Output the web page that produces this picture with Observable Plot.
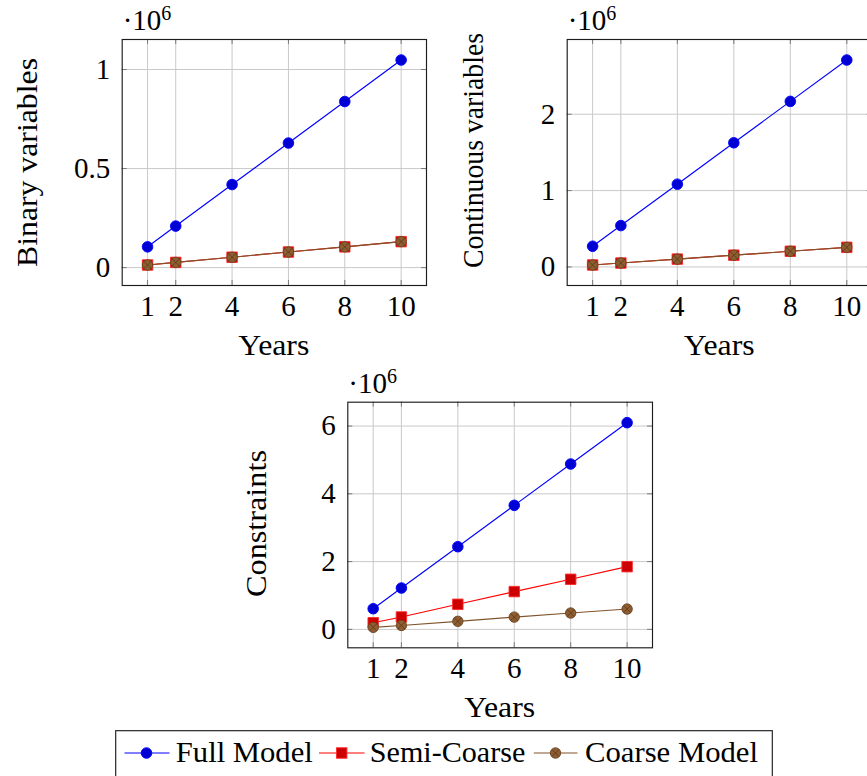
<!DOCTYPE html>
<html><head><meta charset="utf-8">
<script src="https://cdn.jsdelivr.net/npm/d3@7"></script>
<script src="https://cdn.jsdelivr.net/npm/@observablehq/plot@0.6"></script>
<style>
html,body{margin:0;padding:0;background:#fff;}
#root{position:relative;width:867px;height:776px;overflow:hidden;background:#fff;font-family:"Liberation Serif",serif;}
#root > svg{position:absolute;}
</style></head><body><div id="root"></div>
<script>
// ---- data ----
const years = [1, 2, 4, 6, 8, 10];
const seriesNames = ["Full Model", "Semi-Coarse", "Coarse Model"];
const xTicks = [1, 2, 4, 6, 8, 10];

const binaryFull   = [104800, 209600, 419200, 628800, 838400, 1048000];
const binarySemi   = [13100, 26200, 52400, 78600, 104800, 131000];
const binaryCoarse = [13100, 26200, 52400, 78600, 104800, 131000];
const binaryTicks = [0, 500000, 1000000];
const binaryTickLabels = ["0", "0.5", "1"];

const contFull   = [271000, 542000, 1084000, 1626000, 2168000, 2710000];
const contSemi   = [25700, 51400, 102800, 154200, 205600, 257000];
const contCoarse = [25700, 51400, 102800, 154200, 205600, 257000];
const contTicks = [0, 1000000, 2000000];
const contTickLabels = ["0", "1", "2"];

const consFull   = [610000, 1220000, 2440000, 3660000, 4880000, 6100000];
const consSemi   = [195000, 365000, 740000, 1115000, 1478000, 1850000];
const consCoarse = [60000, 115000, 238000, 362000, 482000, 600000];
const consTicks = [0, 2000000, 4000000, 6000000];
const consTickLabels = ["0", "2", "4", "6"];

// ---- styles ----
const FONT = "'Liberation Serif', serif";
const GRID = "#c9c9c9", TICK = "#7a7a7a";
const styles = {
  "Full Model":   {line: "#0000ff", fill: "#0000d4", stroke: "#0000ff", symbol: "circle", r: 5.3},
  "Semi-Coarse":  {line: "#ff0000", fill: "#cc0000", stroke: "#ff2a2a", symbol: "square", r: 5.9},
  "Coarse Model": {line: "#80542b", fill: "#8e5d31", stroke: "#6a4320", symbol: "circle", r: 5.2}
};

const root = document.getElementById("root");

function markerMarks(data, name, x, y) {
  const s = styles[name];
  const m = [Plot.dot(data, {x, y, symbol: s.symbol, r: s.r, fill: s.fill, stroke: s.stroke, strokeWidth: 0.9})];
  if (name === "Coarse Model") m.push(Plot.dot(data, {x, y, symbol: "times", r: 3.3, stroke: "#5a3818", strokeWidth: 0.8}));
  return m;
}

function panel(cfg) {
  const {left, top, width, height, mt, mr, mb, ml} = cfg;
  const fw = width - ml - mr, fh = height - mt - mb;
  const rows = [];
  seriesNames.forEach((name, k) => cfg.values[k].forEach((v, i) => rows.push({year: years[i], value: v, series: name})));
  const lo = d3.min(rows, d => d.value), hi = d3.max(rows, d => d.value);
  const yPad = 0.1 * (hi - lo);
  const [x0, x1] = d3.extent(years);
  const xPad = 0.1 * (x1 - x0);
  const of = name => rows.filter(d => d.series === name);

  const marks = [
    Plot.gridX(xTicks, {stroke: GRID, strokeOpacity: 1, strokeWidth: 1}),
    Plot.gridY(cfg.yTicks, {stroke: GRID, strokeOpacity: 1, strokeWidth: 1}),
    Plot.tickX(xTicks, {x: d => d, insetTop: fh - 5, stroke: TICK}),
    Plot.tickX(xTicks, {x: d => d, insetBottom: fh - 5, stroke: TICK}),
    Plot.tickY(cfg.yTicks, {y: d => d, insetRight: fw - 5, stroke: TICK}),
    Plot.tickY(cfg.yTicks, {y: d => d, insetLeft: fw - 5, stroke: TICK})
  ];
  for (const name of seriesNames) {
    const d = of(name);
    marks.push(Plot.line(d, {x: "year", y: "value", stroke: styles[name].line, strokeWidth: 1.15}));
    marks.push(...markerMarks(d, name, "year", "value"));
  }
  marks.push(Plot.frame({stroke: "#1c1c1c", strokeWidth: 1.15}));
  marks.push(Plot.text(xTicks, {x: d => d, text: d => String(d), frameAnchor: "bottom", dy: 30, lineAnchor: "bottom", fill: "#000", fontSize: 29, fontFamily: FONT}));
  marks.push(Plot.text(cfg.yTicks, {y: d => d, text: (d, i) => cfg.yTickLabels[i], frameAnchor: "left", dx: -12, textAnchor: "end", lineAnchor: "middle", fill: "#000", fontSize: 29, fontFamily: FONT}));

  const svg = Plot.plot({
    width, height,
    marginTop: mt, marginRight: mr, marginBottom: mb, marginLeft: ml,
    x: {domain: [x0 - xPad, x1 + xPad], axis: null},
    y: {domain: [lo - yPad, hi + yPad], axis: null},
    style: {fontFamily: FONT, fontSize: "29px", color: "#000", background: "transparent", overflow: "visible"},
    marks
  });
  svg.style.left = left + "px";
  svg.style.top = top + "px";
  svg.style.position = "absolute";
  const s = d3.select(svg);
  // x label
  s.append("text").attr("x", ml + fw / 2).attr("y", mt + fh + 70)
    .attr("text-anchor", "middle").attr("font-family", FONT).attr("font-size", 29).attr("fill", "#000")
    .attr("textLength", 71).attr("lengthAdjust", "spacingAndGlyphs").text("Years");
  // y label
  s.append("text").attr("transform", `translate(${ml - cfg.yLabelOffset},${cfg.yLabelCenter}) rotate(-90)`)
    .attr("text-anchor", "middle").attr("font-family", FONT).attr("font-size", 29).attr("fill", "#000")
    .attr("textLength", cfg.yLabelLen).attr("lengthAdjust", "spacingAndGlyphs").text(cfg.yLabel);
  // exponent
  const e = s.append("text").attr("x", ml + 1).attr("y", mt - 9).attr("text-anchor", "start")
    .attr("font-family", FONT).attr("font-size", 29).attr("fill", "#000");
  e.append("tspan").text("·10");
  e.append("tspan").attr("dy", -10).attr("font-size", 20).text("6");
  root.appendChild(svg);
}

panel({left: 0, top: 0, width: 440, height: 360, mt: 39, mr: 14, mb: 75, ml: 121.7,
  values: [binaryFull, binarySemi, binaryCoarse], yTicks: binaryTicks, yTickLabels: binaryTickLabels,
  yLabel: "Binary variables", yLabelLen: 209, yLabelOffset: 85, yLabelCenter: 162.5});

panel({left: 440, top: 0, width: 442, height: 360, mt: 39, mr: 10.3, mb: 75, ml: 126.7,
  values: [contFull, contSemi, contCoarse], yTicks: contTicks, yTickLabels: contTickLabels,
  yLabel: "Continuous variables", yLabelLen: 235, yLabelOffset: 83.5, yLabelCenter: 150.5});

panel({left: 220, top: 360, width: 450, height: 370, mt: 41.7, mr: 18, mb: 82.7, ml: 127.3,
  values: [consFull, consSemi, consCoarse], yTicks: consTicks, yTickLabels: consTickLabels,
  yLabel: "Constraints", yLabelLen: 147, yLabelOffset: 81, yLabelCenter: 163.5});

// ---- legend ----
const legendItems = [
  {name: seriesNames[0], x1: 124.5, x2: 169.5, mx: 146.5, tx: 175.8, tw: 137},
  {name: seriesNames[1], x1: 319, x2: 364.6, mx: 341.7, tx: 369.8, tw: 155.5},
  {name: seriesNames[2], x1: 533.8, x2: 577.5, mx: 555.5, tx: 585, tw: 173}
];
const lg = d3.create("svg").attr("width", 867).attr("height", 56)
  .style("position", "absolute").style("left", "0px").style("top", "720px");
lg.append("rect").attr("x", 115.7).attr("y", 10.7).attr("width", 656.6).attr("height", 60)
  .attr("fill", "#fff").attr("stroke", "#1c1c1c").attr("stroke-width", 1.15);
for (const it of legendItems) {
  const st = styles[it.name];
  const cy = 33;
  lg.append("line").attr("x1", it.x1).attr("x2", it.x2).attr("y1", cy).attr("y2", cy)
    .attr("stroke", st.line).attr("stroke-width", 1.15);
  if (st.symbol === "square") {
    const side = st.r * Math.sqrt(Math.PI);
    lg.append("rect").attr("x", it.mx - side / 2).attr("y", cy - side / 2).attr("width", side).attr("height", side)
      .attr("fill", st.fill).attr("stroke", st.stroke).attr("stroke-width", 0.9);
  } else {
    lg.append("circle").attr("cx", it.mx).attr("cy", cy).attr("r", st.r)
      .attr("fill", st.fill).attr("stroke", st.stroke).attr("stroke-width", 0.9);
    if (it.name === "Coarse Model") {
      const a = 3.6;
      lg.append("path").attr("d", `M${it.mx - a},${cy - a}L${it.mx + a},${cy + a}M${it.mx - a},${cy + a}L${it.mx + a},${cy - a}`)
        .attr("stroke", "#5a3818").attr("stroke-width", 0.8);
    }
  }
  lg.append("text").attr("x", it.tx).attr("y", 42).attr("font-family", FONT).attr("font-size", 29).attr("fill", "#000")
    .attr("textLength", it.tw).attr("lengthAdjust", "spacingAndGlyphs").text(it.name);
}
root.appendChild(lg.node());
</script></body></html>
